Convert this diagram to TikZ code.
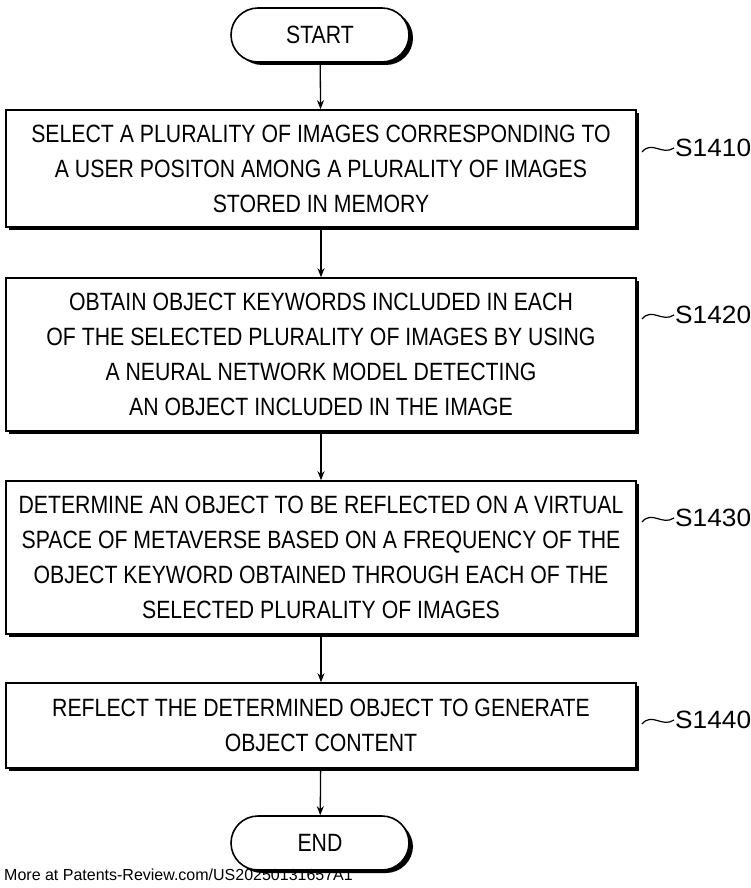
\documentclass[tikz,border=0pt]{standalone}
\usepackage{fontspec}
\setmainfont{Liberation Sans}
\usetikzlibrary{arrows.meta}
\newcommand{\cl}[1]{\scalebox{0.85}[1]{#1}}
\begin{document}
\begin{tikzpicture}[x=1pt,y=-1pt,
  box/.style={draw,line width=1.6pt,fill=white,align=center,font=\fontsize{25}{35}\selectfont,inner sep=0pt},
  term/.style={draw,line width=1.6pt,rounded corners=27pt,fill=white,font=\fontsize{25}{30}\selectfont,minimum width=178pt,minimum height=54pt},
  arr/.style={line width=1.3pt,-{Stealth[length=9pt,width=7pt]}},
  lab/.style={font=\fontsize{25}{30}\selectfont,anchor=west,inner sep=1pt}]
\useasboundingbox (0,0) rectangle (751,888);
\fill[rounded corners=27pt] (235,11) rectangle (413,65);
\fill (9,113) rectangle (639,230);
\fill (9,281) rectangle (639,434);
\fill (9,484) rectangle (639,637);
\fill (9,686) rectangle (639,771);
\fill[rounded corners=27pt] (235,820) rectangle (413,873);
\node[term] (start) at (320,35) {\cl{START}};
\node[box,minimum width=630pt,minimum height=117pt] (b1) at (321,168.5) {\cl{SELECT A PLURALITY OF IMAGES CORRESPONDING TO}\\\cl{A USER POSITON AMONG A PLURALITY OF IMAGES}\\\cl{STORED IN MEMORY}};
\node[box,minimum width=630pt,minimum height=153pt] (b2) at (321,354.5) {\cl{OBTAIN OBJECT KEYWORDS INCLUDED IN EACH}\\\cl{OF THE SELECTED PLURALITY OF IMAGES BY USING}\\\cl{A NEURAL NETWORK MODEL DETECTING}\\\cl{AN OBJECT INCLUDED IN THE IMAGE}};
\node[box,minimum width=630pt,minimum height=153pt] (b3) at (321,557.5) {\cl{DETERMINE AN OBJECT TO BE REFLECTED ON A VIRTUAL}\\\cl{SPACE OF METAVERSE BASED ON A FREQUENCY OF THE}\\\cl{OBJECT KEYWORD OBTAINED THROUGH EACH OF THE}\\\cl{SELECTED PLURALITY OF IMAGES}};
\node[box,minimum width=630pt,minimum height=85pt] (b4) at (321,725.5) {\cl{REFLECT THE DETERMINED OBJECT TO GENERATE}\\\cl{OBJECT CONTENT}};
\node[term] (end) at (320,843) {\cl{END}};
\draw[arr] (start) -- (b1);
\draw[arr] (b1) -- (b2);
\draw[arr] (b2) -- (b3);
\draw[arr] (b3) -- (b4);
\draw[arr] (b4) -- (end);
\foreach \n/\y/\t in {1/148/S1410,2/315/S1420,3/518/S1430,4/720/S1440}{
  \node[lab] (s\n) at (674,\y) {\scalebox{1.05}[1]{\t}};
  \coordinate (a\n) at (642,{\y+4});
  \draw[line width=1.2pt] (a\n) .. controls (652,{\y-8}) and (662,{\y+8}) .. (s\n.west);
}
\node[anchor=south west,font=\fontsize{16}{18}\selectfont,inner sep=1pt] (foot) at (3,882) {More at Patents-Review.com/US20250131657A1};
\end{tikzpicture}
\end{document}
